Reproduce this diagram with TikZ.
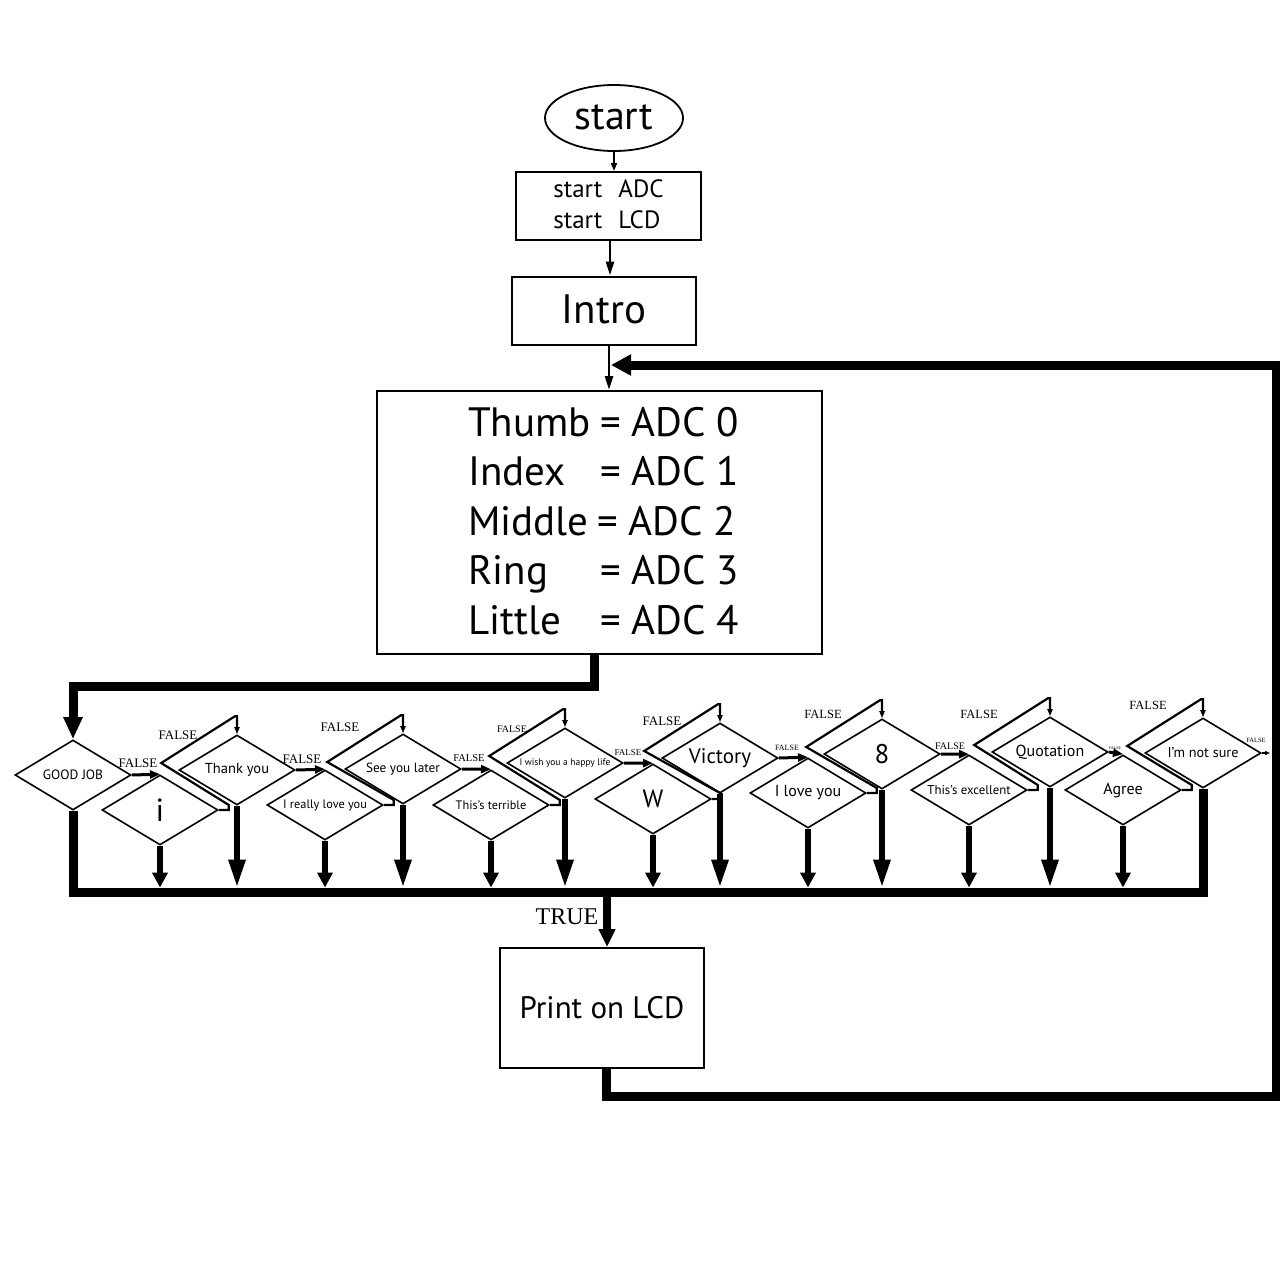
\documentclass[tikz,border=0pt]{standalone}
\usepackage{fontspec}
\setmainfont{PT Sans}
\newfontfamily\serf{Liberation Serif}
\usetikzlibrary{shapes.geometric,arrows.meta,calc}
\newcommand\fsz[1]{\fontsize{#1}{#1}\selectfont}
\begin{document}
\begin{tikzpicture}[x=1pt,y=-1pt,
 dia/.style={diamond, draw, line width=1.6, minimum width=116, minimum height=70, inner sep=0, aspect=1.657},
 box/.style={draw, line width=2, inner sep=0},
 fl/.style={inner sep=0, font=\serf\fsz{13}},
 ret/.style={line width=2.2, line join=miter, -{Triangle[width=5pt,length=7pt]}},
 farr/.style={line width=3, -{Triangle[width=8pt,length=10pt]}},
 dbig/.style={line width=6, -{Triangle[width=16pt,length=28pt]}},
 dsmall/.style={line width=6, -{Triangle[width=15pt,length=15pt]}},
 thin/.style={line width=2.5, -{Triangle[width=8pt,length=14pt]}},
 heavy/.style={line width=9, line join=miter},
]
\fill[white] (0,0) rectangle (1280,1280);
\useasboundingbox (0,0) rectangle (1280,1280);

% top chain
\node[ellipse, draw, line width=1.8, minimum width=138, minimum height=66, inner sep=0] (st) at (614,118) {\fsz{40}\raisebox{1pt}{start}};
\node[box, minimum width=185, minimum height=68, align=left, font=\fontsize{25}{31}\selectfont] (init) at (608.5,206) {\raisebox{3pt}{start\hspace{16pt}ADC}\\\raisebox{3pt}{start\hspace{16pt}LCD}};
\node[box, minimum width=184, minimum height=68] (intro) at (604,310.5) {\fsz{41}\raisebox{2pt}{Intro}};
\node[box, minimum width=445, minimum height=263] (big) at (599.5,522.5) {};
\node[inner sep=0, anchor=west, align=left, font=\fsz{41}] (vars) at (468,521) {%
\makebox[132pt][l]{Thumb}= ADC 0\\[8.6pt]
\makebox[132pt][l]{Index}= ADC 1\\[8.6pt]
\makebox[129pt][l]{Middle}= ADC 2\\[8.6pt]
\makebox[132pt][l]{Ring}= ADC 3\\[8.6pt]
\makebox[132pt][l]{Little}= ADC 4};

\draw[line width=1.8, -{Triangle[width=6pt,length=8pt]}] (st.south) -- (st.south |- init.north);
\draw[thin] ([xshift=1.5pt]init.south) -- ([xshift=1.5pt]init.south |- intro.north);
\draw[thin] ([xshift=5pt]intro.south) -- ([xshift=5pt]intro.south |- big.north);

% diamonds
\node[dia, font=\fsz{13.5}] (gj) at (73,775) {GOOD JOB};
\node[dia, font=\fsz{32}] (di) at (160,810) {i};
\node[dia, font=\fsz{14.5}] (ty) at (237,770) {Thank you};
\node[dia, font=\fsz{12.3}] (rl) at (325,805) {I really love you};
\node[dia, font=\fsz{13.3}] (sy) at (403,769) {See you later};
\node[dia, font=\fsz{12.3}] (tt) at (491,805) {This’s terrible};
\node[dia, font=\fsz{9.5}] (wh) at (565,763) {I wish you a happy life};
\node[dia, font=\fsz{25}] (dw) at (653,799) {W};
\node[dia, font=\fsz{21}] (vi) at (720,758) {Victory};
\node[dia, font=\fsz{16}] (lv) at (808,793) {I love you};
\node[dia, font=\fsz{27}] (e8) at (882,754) {8};
\node[dia, font=\fsz{12.8}] (ex) at (969,790) {This’s excellent};
\node[dia, font=\fsz{16}] (qu) at (1050,752) {Quotation};
\node[dia, font=\fsz{16}] (ag) at (1123,790) {Agree};
\node[dia, font=\fsz{14.2}] (ns) at (1203,753) {I’m not sure};
\coordinate (nsend) at (1270,753);

% big box to first decision
\draw[heavy, -{Triangle[width=18pt,length=22pt]}] ([xshift=-5.5pt]big.south) -- ++(0,31) -| (gj.north);

% false arrows upper -> lower
\foreach \u/\l in {gj/di, ty/rl, sy/tt, wh/dw, vi/lv, e8/ex, qu/ag}
  \draw[farr] (\u.east) -- (\l.north);
\draw[line width=1.5, -{Triangle[width=4pt,length=5pt]}] (ns.east) -- (nsend);

% return paths lower -> next upper
\foreach \l/\u in {di/ty, rl/sy, tt/wh, dw/vi, lv/e8, ex/qu, ag/ns}
  \draw[ret] (\l.east) -- ++(10,0) -- ++(0,-5) -- ($(\u.west)+(-17,-7)$) -- ($(\u.north)+(-2,-18)$) -- ($(\u.north)+(0,-18)$) -- (\u.north);

% FALSE labels
\node[fl] (f1) at (138,763) {FALSE};
\node[fl] (f2) at (178,735) {FALSE};
\node[fl] (f3) at (302,759) {FALSE};
\node[fl] (f4) at (340,727) {FALSE};
\node[fl, font=\serf\fsz{10.5}] (f5) at (469,758) {FALSE};
\node[fl, font=\serf\fsz{10}] (f6) at (512,729) {FALSE};
\node[fl, font=\serf\fsz{9}] (f7) at (628,753) {FALSE};
\node[fl] (f8) at (662,721) {FALSE};
\node[fl, font=\serf\fsz{8}] (f9) at (787,748) {FALSE};
\node[fl, font=\serf\fsz{12.5}] (f10) at (823,714) {FALSE};
\node[fl, font=\serf\fsz{10}] (f11) at (950,746) {FALSE};
\node[fl, font=\serf\fsz{12.5}] (f12) at (979,714) {FALSE};
\node[fl, font=\serf\fsz{4}] (f13) at (1115,748) {FALSE};
\node[fl, font=\serf\fsz{12.5}] (f14) at (1148,705) {FALSE};
\node[fl, font=\serf\fsz{6.5}] (f15) at (1256,740) {FALSE};

% down arrows to bus
\coordinate (bust) at (0,887.5);
\coordinate (busc) at (0,892);
\foreach \d in {ty, sy, wh, vi, e8, qu}
  \draw[dbig] (\d.south) -- (\d.south |- bust);
\foreach \d in {di, rl, tt, dw, lv, ex, ag}
  \draw[dsmall] (\d.south) -- (\d.south |- bust);
\draw[heavy] (gj.south) -- (gj.south |- busc) -| (ns.south);

% TRUE branch
\node[box, minimum width=204, minimum height=120] (pr) at (602,1008) {\fsz{31}\raisebox{2pt}{Print on LCD}};
\coordinate (tb) at (607,892);
\draw[line width=8, -{Triangle[width=16pt,length=18pt]}] (tb) -- (tb |- pr.north);
\node[inner sep=0, font=\serf\fsz{24}] (tl) at (567,917) {TRUE};

% loop back
\coordinate (lr) at (1276,1096);
\coordinate (lt) at (1276,365);
\coordinate (le) at (611,365);
\draw[heavy, -{Triangle[width=20pt,length=20pt]}] ([xshift=4pt]pr.south) -- ([xshift=4pt]pr.south |- lr) -- (lr) -- (lt) -- (le);
\end{tikzpicture}
\end{document}
